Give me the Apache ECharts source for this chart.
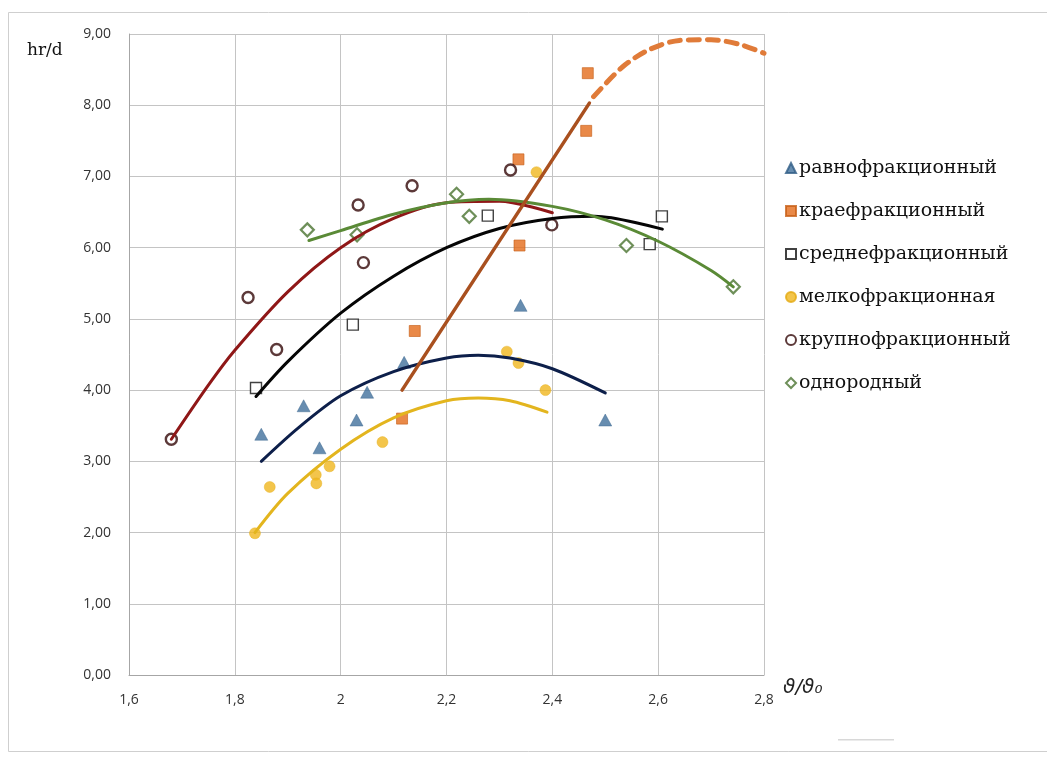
<!DOCTYPE html>
<html><head><meta charset="utf-8">
<script src="https://cdn.jsdelivr.net/npm/echarts@6/dist/echarts.min.js"></script>
<style>html,body{margin:0;padding:0;background:#fff}#c{width:1047px;height:758px}</style>
</head><body><div id="c"></div>
<script>
// ---- data ----
const seriesNames = ['равнофракционный','краефракционный','среднефракционный','мелкофракционная','крупнофракционный','однородный'];
const ravnoPts = [[1.85,3.38],[1.93,3.78],[1.96,3.19],[2.03,3.58],[2.05,3.97],[2.12,4.39],[2.34,5.19],[2.50,3.58]];
const kraePts = [[2.116,3.60],[2.14,4.83],[2.336,7.24],[2.338,6.03],[2.467,8.45],[2.464,7.64]];
const srednePts = [[1.84,4.03],[2.023,4.92],[2.278,6.45],[2.607,6.44],[2.584,6.05]];
const melkoPts = [[1.838,1.99],[1.866,2.64],[1.953,2.81],[1.954,2.69],[1.979,2.93],[2.079,3.27],[2.314,4.54],[2.336,4.38],[2.387,4.00],[2.37,7.06]];
const krupnoPts = [[1.68,3.31],[1.825,5.30],[1.879,4.57],[2.033,6.60],[2.043,5.79],[2.135,6.87],[2.321,7.09],[2.399,6.32]];
const odnoPts = [[1.937,6.25],[2.031,6.18],[2.219,6.75],[2.243,6.44],[2.54,6.03],[2.742,5.45]];
// trend lines
const ravnoTrend = [[1.85,3.0],[1.92,3.47],[2.0,3.92],[2.1,4.26],[2.2,4.45],[2.26,4.49],[2.32,4.45],[2.4,4.30],[2.5,3.96]];
const melkoTrend = [[1.838,2.0],[1.9,2.55],[2.0,3.17],[2.1,3.61],[2.2,3.85],[2.26,3.89],[2.32,3.85],[2.39,3.69]];
const krupnoTrend = [[1.68,3.31],[1.75,4.07],[1.8,4.56],[1.9,5.38],[2.0,6.0],[2.1,6.41],[2.2,6.63],[2.3,6.65],[2.4,6.49]];
const sredneTrend = [[1.84,3.91],[1.9,4.4],[2.0,5.08],[2.1,5.6],[2.2,6.0],[2.3,6.27],[2.4,6.41],[2.48,6.44],[2.608,6.26]];
const odnoTrend = [[1.94,6.10],[2.0,6.24],[2.1,6.47],[2.2,6.63],[2.28,6.68],[2.4,6.58],[2.5,6.39],[2.6,6.09],[2.7,5.68],[2.742,5.45]];
const kraeTrend = [[2.116,4.0],[2.47,8.03]];
const kraeExtension = [[2.478,8.12],[2.533,8.54],[2.583,8.78],[2.64,8.91],[2.70,8.92],[2.756,8.85],[2.8,8.73]];
const xMin = 1.6, xMax = 2.8, xStep = 0.2;
const yMin = 0, yMax = 9, yStep = 1;

const chart = echarts.init(document.getElementById('c'), null, {renderer:'canvas'});
const fmtX = v => { const s = (Math.round(v*10)/10).toString(); return s.replace('.', ','); };
const fmtY = v => v.toFixed(2).replace('.', ',');

function trend(data, color, w, z, dash) {
  return {type:'line', data, smooth: data.length > 2 ? 0.3 : false, showSymbol:false, symbol:'none',
    lineStyle:{color, width:w, type: dash || 'solid', cap:'round'}, z, silent:true, legendHoverLink:false};
}

chart.setOption({
  backgroundColor:'#fff',
  animation:false,
  grid:{left:129, top:34, width:635, height:641, containLabel:false},
  xAxis:{type:'value', min:xMin, max:xMax, interval:xStep,
    axisLine:{show:true, lineStyle:{color:'#a6a6a6', width:1}}, axisTick:{show:false},
    splitLine:{show:true, lineStyle:{color:'#c4c4c4', width:1}},
    axisLabel:{formatter:fmtX, color:'#333', fontFamily:'Open Sans', fontSize:14, margin:18}},
  yAxis:{type:'value', min:yMin, max:yMax, interval:yStep,
    axisLine:{show:true, lineStyle:{color:'#a6a6a6', width:1}}, axisTick:{show:false},
    splitLine:{show:true, lineStyle:{color:'#c4c4c4', width:1}},
    axisLabel:{formatter:fmtY, color:'#333', fontFamily:'Open Sans', fontSize:14, margin:18}},
  legend:{orient:'vertical', left:780, top:153, itemGap:23, itemWidth:10, itemHeight:10,
    data:seriesNames.map(n=>({name:n})),
    textStyle:{fontFamily:'DejaVu Serif', fontSize:19, color:'#111', lineHeight:20, padding:[0,0,0,-2]}},
  graphic:[
    {type:'rect', shape:{x:8.5, y:12.5, width:1100, height:739}, style:{fill:'none', stroke:'#cfcfcf', lineWidth:1}, z:-10, silent:true},
    {type:'text', left:27, top:42, style:{text:'hr/d', font:'17px "DejaVu Serif"', fill:'#111'}},
    {type:'text', left:783, top:678, style:{text:'ϑ/ϑ₀', font:'italic 20px "DejaVu Sans"', fill:'#222'}},
    {type:'rect', shape:{x:838, y:739, width:56, height:1.5}, style:{fill:'#d8d8d8'}, silent:true}
  ],
  series:[
    {name:seriesNames[0], type:'scatter', data:ravnoPts, symbol:'triangle', symbolSize:[13,12], z:3,
      itemStyle:{color:'#41719C', borderColor:'#2f5d86', borderWidth:0.5}},
    {name:seriesNames[1], type:'scatter', data:kraePts, symbol:'rect', symbolSize:11, z:3,
      itemStyle:{color:'#E46C1A', borderColor:'#c75f17', borderWidth:0.8}},
    {name:seriesNames[2], type:'scatter', data:srednePts, symbol:'rect', symbolSize:11, z:3,
      itemStyle:{color:'#fff', borderColor:'#111', borderWidth:1.4}},
    {name:seriesNames[3], type:'scatter', data:melkoPts, symbol:'circle', symbolSize:11, z:3,
      itemStyle:{color:'#F0B71E', borderColor:'#e3a90f', borderWidth:0.5}},
    {name:seriesNames[4], type:'scatter', data:krupnoPts, symbol:'circle', symbolSize:11, z:3,
      itemStyle:{color:'#fff', borderColor:'#330808', borderWidth:2.4}},
    {name:seriesNames[5], type:'scatter', data:odnoPts, symbol:'diamond', symbolSize:[13,13], z:3,
      itemStyle:{color:'#fff', borderColor:'#4a7330', borderWidth:2.2}},
    trend(ravnoTrend, '#0d1f4a', 3, 4),
    trend(melkoTrend, '#E3B51E', 3, 4),
    trend(krupnoTrend, '#8f1717', 3, 4),
    trend(sredneTrend, '#050505', 3, 4),
    trend(odnoTrend, '#5a8a36', 3, 4),
    trend(kraeTrend, '#A9501F', 3.5, 5),
    trend(kraeExtension, '#E07B39', 5, 5, [11,8])
  ]
});
</script>
</body></html>
